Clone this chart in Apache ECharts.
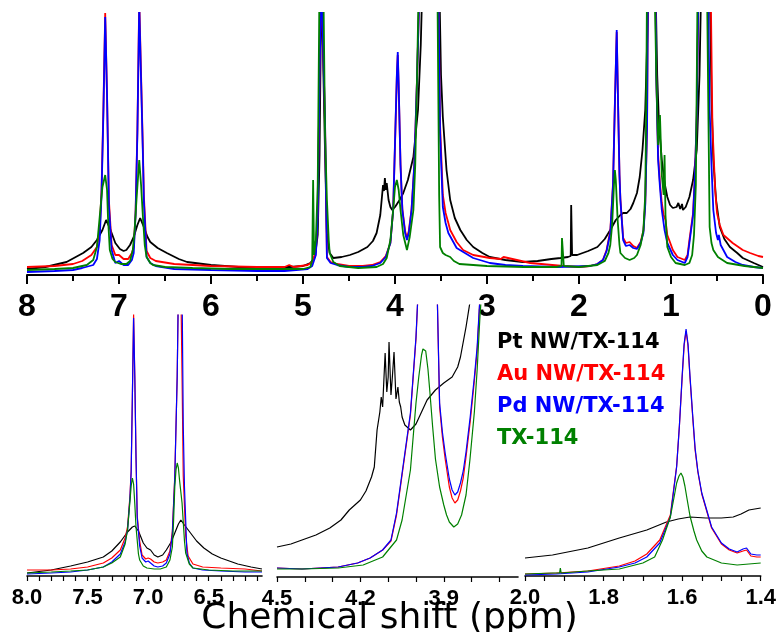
<!DOCTYPE html>
<html>
<head>
<meta charset="utf-8">
<script src="https://cdn.jsdelivr.net/npm/echarts@6/dist/echarts.min.js"></script>
<style>
html,body{margin:0;padding:0;background:#fff;}
#chart{width:779px;height:632px;}
</style>
</head>
<body>
<div id="chart"></div>
<script>
// 1H NMR spectra of TX-114 alone and with Pt, Au, Pd nanowires (intensity in arbitrary units)
const sampleNames = ['Pt NW/TX-114', 'Au NW/TX-114', 'Pd NW/TX-114', 'TX-114'];

// ---- full range, 8 to 0 ppm ----
const fullPt = [[8.0,6],[7.8,8],[7.57,13],[7.39,22],[7.3,28],[7.24,35],[7.18,45],[7.14,55],[7.1,47],[7.08,42],[7.04,32],[6.99,26],[6.95,24],[6.92,25],[6.88,30],[6.84,38],[6.8,50],[6.77,57],[6.73,48],[6.69,38],[6.66,33],[6.58,27],[6.48,22],[6.35,16],[6.26,13],[6.0,10],[5.7,8],[5.39,8],[5.14,8],[5.0,9],[4.92,12],[4.87,18],[4.84,40],[4.82,120],[4.80,300],[4.78,300],[4.76,120],[4.74,40],[4.71,22],[4.67,17],[4.58,18],[4.49,20],[4.40,23],[4.30,28],[4.24,34],[4.2,42],[4.16,60],[4.14,80],[4.13,90],[4.12,84],[4.11,97],[4.10,85],[4.09,92],[4.07,75],[4.05,68],[4.03,65],[4.0,68],[3.95,75],[3.91,82],[3.86,95],[3.80,118],[3.75,165],[3.72,230],[3.70,300],[3.52,300],[3.50,200],[3.48,158],[3.44,105],[3.40,75],[3.35,57],[3.29,45],[3.22,35],[3.15,28],[3.05,22],[2.97,18],[2.8,15],[2.61,13],[2.45,14],[2.3,16],[2.2,17],[2.12,18],[2.09,19],[2.085,70],[2.08,70],[2.075,20],[2.02,20],[1.9,24],[1.80,28],[1.72,36],[1.66,45],[1.60,55],[1.55,60],[1.52,62],[1.48,62],[1.44,66],[1.41,72],[1.37,82],[1.34,98],[1.31,125],[1.28,165],[1.26,230],[1.24,300],[1.17,300],[1.15,200],[1.13,150],[1.10,115],[1.07,92],[1.04,78],[1.01,70],[0.98,67],[0.94,68],[0.92,72],[0.90,66],[0.88,71],[0.87,65],[0.84,68],[0.80,78],[0.76,95],[0.72,125],[0.69,200],[0.67,300],[0.58,300],[0.56,180],[0.54,115],[0.51,75],[0.47,48],[0.42,36],[0.36,28],[0.28,22],[0.22,17],[0.1,12],[0,8]];
const fullAu = [[8.0,8],[7.7,9],[7.5,11],[7.4,14],[7.3,20],[7.24,28],[7.21,45],[7.19,85],[7.17,165],[7.15,262],[7.13,180],[7.11,75],[7.08,30],[7.04,20],[7.0,20],[6.98,21],[6.95,16],[6.9,16],[6.86,22],[6.84,28],[6.82,62],[6.80,145],[6.78,275],[6.76,275],[6.74,125],[6.73,80],[6.70,24],[6.66,17],[6.6,14],[6.4,11],[6.0,9],[5.5,8],[5.2,8],[5.15,10],[5.1,8],[4.95,10],[4.9,13],[4.86,24],[4.84,62],[4.82,200],[4.80,300],[4.78,300],[4.76,150],[4.74,18],[4.70,13],[4.63,11],[4.5,9],[4.35,9],[4.25,10],[4.16,13],[4.1,19],[4.05,32],[4.02,65],[4.0,130],[3.98,198],[3.97,220],[3.96,188],[3.94,110],[3.92,66],[3.89,44],[3.87,37],[3.85,44],[3.82,66],[3.79,110],[3.76,198],[3.73,300],[3.53,300],[3.51,150],[3.48,80],[3.45,62],[3.42,52],[3.40,45],[3.33,33],[3.26,25],[3.15,20],[2.97,17],[2.85,16],[2.82,18],[2.8,16],[2.53,12],[2.17,9],[2.0,8],[1.88,9],[1.80,11],[1.74,15],[1.70,25],[1.66,44],[1.63,92],[1.61,172],[1.59,243],[1.575,170],[1.56,100],[1.55,76],[1.52,37],[1.49,32],[1.47,34],[1.45,33],[1.41,29],[1.37,27],[1.33,33],[1.30,44],[1.28,72],[1.26,150],[1.25,300],[1.17,300],[1.16,200],[1.14,120],[1.12,92],[1.10,72],[1.08,60],[1.06,55],[1.04,40],[0.98,25],[0.93,18],[0.85,15],[0.82,20],[0.80,35],[0.78,34],[0.76,62],[0.74,100],[0.72,160],[0.70,300],[0.57,300],[0.55,150],[0.52,85],[0.50,62],[0.49,58],[0.47,50],[0.43,40],[0.33,32],[0.22,25],[0.14,22],[0.05,19],[0,18]];
const fullPd = [[8.0,3],[7.7,4],[7.5,5],[7.4,7],[7.28,10],[7.24,16],[7.21,35],[7.19,80],[7.17,160],[7.15,258],[7.13,180],[7.11,70],[7.08,25],[7.04,12],[7.0,14],[6.98,16],[6.95,10],[6.9,10],[6.86,15],[6.84,22],[6.82,60],[6.80,142],[6.78,270],[6.76,270],[6.74,120],[6.73,75],[6.70,18],[6.66,12],[6.6,9],[6.4,6],[6.0,5],[5.5,4],[5.2,4],[4.95,6],[4.9,9],[4.86,20],[4.84,60],[4.82,200],[4.80,300],[4.78,300],[4.76,150],[4.74,17],[4.70,12],[4.63,10],[4.5,8],[4.35,8],[4.25,9],[4.16,12],[4.1,18],[4.05,32],[4.02,65],[4.0,132],[3.98,200],[3.97,223],[3.96,190],[3.94,110],[3.92,65],[3.89,42],[3.87,35],[3.85,42],[3.82,65],[3.79,110],[3.76,198],[3.73,300],[3.53,300],[3.51,142],[3.48,68],[3.45,52],[3.42,42],[3.33,27],[3.15,17],[2.97,12],[2.8,10],[2.61,9],[2.24,8],[1.88,9],[1.80,11],[1.74,15],[1.70,24],[1.66,42],[1.63,90],[1.61,170],[1.59,245],[1.575,170],[1.56,100],[1.55,75],[1.52,35],[1.49,29],[1.47,31],[1.45,30],[1.41,27],[1.37,26],[1.33,32],[1.30,42],[1.28,70],[1.26,150],[1.25,300],[1.17,300],[1.16,200],[1.14,115],[1.12,88],[1.10,65],[1.07,45],[1.04,32],[0.98,20],[0.93,15],[0.85,12],[0.82,18],[0.80,32],[0.78,30],[0.76,60],[0.74,98],[0.72,160],[0.70,300],[0.60,300],[0.58,165],[0.56,110],[0.54,65],[0.51,42],[0.49,35],[0.48,40],[0.46,30],[0.39,18],[0.3,13],[0.22,10],[0.1,8],[0,7]];
const fullTX = [[8.0,5],[7.7,6],[7.5,7],[7.35,10],[7.28,15],[7.24,28],[7.21,58],[7.18,88],[7.15,100],[7.13,85],[7.12,58],[7.10,25],[7.07,16],[7.04,13],[6.98,11],[6.92,11],[6.88,14],[6.85,25],[6.83,45],[6.81,75],[6.78,115],[6.76,90],[6.74,58],[6.72,30],[6.70,18],[6.66,12],[6.63,10],[6.5,8],[6.2,7],[5.8,6],[5.4,6],[5.0,6],[4.92,8],[4.90,15],[4.89,95],[4.885,95],[4.88,20],[4.86,35],[4.84,90],[4.82,300],[4.78,300],[4.76,140],[4.74,75],[4.72,35],[4.71,22],[4.67,13],[4.6,9],[4.4,7],[4.2,8],[4.13,11],[4.09,17],[4.05,35],[4.02,65],[4.0,88],[3.98,95],[3.96,85],[3.94,65],[3.91,40],[3.87,25],[3.84,38],[3.80,65],[3.78,110],[3.76,200],[3.74,300],[3.54,300],[3.52,80],[3.51,28],[3.48,22],[3.45,20],[3.40,18],[3.36,14],[3.3,11],[3.0,9],[2.6,8],[2.25,8],[2.19,9],[2.185,37],[2.17,37],[2.165,9],[2.0,8],[1.9,9],[1.8,10],[1.72,14],[1.68,22],[1.66,30],[1.64,50],[1.62,90],[1.61,105],[1.60,95],[1.58,55],[1.56,30],[1.55,22],[1.50,17],[1.45,15],[1.40,17],[1.37,20],[1.33,30],[1.30,45],[1.28,80],[1.27,160],[1.26,300],[1.18,300],[1.16,200],[1.14,130],[1.12,160],[1.10,100],[1.08,80],[1.07,120],[1.06,60],[1.04,28],[1.0,18],[0.95,12],[0.85,10],[0.80,12],[0.77,20],[0.75,40],[0.73,90],[0.71,300],[0.61,300],[0.59,132],[0.58,48],[0.56,32],[0.54,25],[0.49,18],[0.39,12],[0.2,9],[0,7]];

// ---- aromatic region, 8.0 to 6.06 ppm ----
const aroPt = [[8.0,3],[7.8,6],[7.64,10],[7.5,14],[7.37,19],[7.3,25],[7.23,34],[7.17,44],[7.13,49],[7.11,50],[7.08,45],[7.04,33],[7.01,28],[6.98,26],[6.95,21],[6.92,19],[6.88,21],[6.85,26],[6.81,34],[6.78,43],[6.75,52],[6.73,56],[6.70,51],[6.65,43],[6.60,35],[6.54,28],[6.47,22],[6.40,18],[6.33,15],[6.26,12],[6.15,9],[6.06,7]];
const aroAu = [[8.0,6],[7.8,6],[7.64,7],[7.5,9],[7.37,13],[7.3,18],[7.23,26],[7.19,38],[7.17,49],[7.15,80],[7.14,106],[7.13,180],[7.12,262],[7.11,200],[7.10,120],[7.09,60],[7.07,35],[7.05,21],[7.02,17],[7.0,18],[6.98,17],[6.95,14],[6.92,13],[6.88,14],[6.85,16],[6.82,25],[6.80,45],[6.78,100],[6.76,200],[6.75,290],[6.73,290],[6.72,200],[6.71,100],[6.69,40],[6.67,20],[6.63,12],[6.55,9],[6.4,8],[6.2,7],[6.06,5]];
const aroPd = [[8.0,2],[7.8,3],[7.64,4],[7.5,6],[7.37,9],[7.3,14],[7.23,22],[7.19,34],[7.17,46],[7.15,78],[7.14,104],[7.13,180],[7.12,258],[7.11,198],[7.10,118],[7.09,58],[7.07,30],[7.05,18],[7.02,14],[7.0,15],[6.98,13],[6.95,10],[6.92,9],[6.88,10],[6.85,13],[6.82,22],[6.80,42],[6.78,98],[6.76,200],[6.75,290],[6.72,290],[6.71,150],[6.70,89],[6.68,23],[6.66,13],[6.63,8],[6.55,6],[6.4,5],[6.2,4],[6.06,4]];
const aroTX = [[8.0,3],[7.8,4],[7.64,5],[7.5,6],[7.37,9],[7.3,13],[7.23,19],[7.19,32],[7.17,46],[7.15,75],[7.14,90],[7.13,98],[7.12,92],[7.11,72],[7.10,49],[7.08,22],[7.07,16],[7.04,10],[7.01,8],[6.95,7],[6.90,7],[6.85,9],[6.82,16],[6.80,29],[6.79,55],[6.78,89],[6.77,106],[6.76,113],[6.75,108],[6.74,95],[6.72,73],[6.70,35],[6.69,23],[6.66,12],[6.63,8],[6.5,6],[6.3,5],[6.06,5]];

// ---- oxyethylene region, 4.5 to 3.63 ppm ----
const eoPt = [[4.50,30],[4.45,33],[4.41,37],[4.36,42],[4.31,49],[4.27,57],[4.24,67],[4.22,72],[4.20,77],[4.18,86],[4.16,100],[4.15,110],[4.14,147],[4.13,165],[4.125,180],[4.12,170],[4.115,200],[4.111,224],[4.105,185],[4.10,200],[4.097,235],[4.09,182],[4.085,200],[4.079,225],[4.072,178],[4.065,190],[4.06,175],[4.055,170],[4.05,160],[4.04,152],[4.02,147],[4.00,153],[3.98,165],[3.96,177],[3.93,187],[3.90,194],[3.87,200],[3.85,210],[3.84,220],[3.82,250],[3.80,285],[3.78,330]];
const eoAu = [[4.50,9],[4.41,8],[4.28,10],[4.21,14],[4.165,19],[4.12,27],[4.09,36],[4.07,62],[4.05,102],[4.02,162],[4.00,238],[3.99,300],[3.975,450],[3.958,540],[3.94,450],[3.925,300],[3.915,170],[3.905,140],[3.895,118],[3.88,90],[3.87,79],[3.86,74],[3.85,77],[3.84,86],[3.83,99],[3.82,120],[3.805,155],[3.79,196],[3.78,226],[3.77,278],[3.76,300],[3.633,300]];
const eoPd = [[4.50,9],[4.41,8],[4.28,10],[4.21,14],[4.165,19],[4.12,27],[4.09,37],[4.07,64],[4.05,104],[4.02,164],[4.00,240],[3.99,300],[3.975,450],[3.958,540],[3.94,450],[3.925,300],[3.915,174],[3.905,145],[3.895,124],[3.88,98],[3.87,87],[3.86,82],[3.85,85],[3.84,94],[3.83,106],[3.82,125],[3.805,160],[3.79,200],[3.78,230],[3.77,280],[3.76,300],[3.633,300]];
const eoTX = [[4.50,8],[4.41,8],[4.28,9],[4.19,12],[4.12,20],[4.07,37],[4.05,57],[4.02,107],[4.00,174],[3.99,200],[3.98,222],[3.975,228],[3.97,230],[3.965,226],[3.957,208],[3.95,185],[3.94,150],[3.93,118],[3.915,90],[3.90,72],[3.89,62],[3.88,55],[3.864,50],[3.85,53],[3.836,62],[3.82,82],[3.806,117],[3.79,165],[3.78,207],[3.77,260],[3.76,300],[3.633,300]];

// ---- alkyl region, 2.0 to 1.4 ppm ----
const alkPt = [[2.0,18],[1.93,21],[1.84,28],[1.76,38],[1.69,46],[1.64,54],[1.61,57],[1.58,59],[1.54,58],[1.50,58],[1.47,59],[1.45,62],[1.43,66],[1.40,68]];
const alkAu = [[2.0,2],[1.92,3],[1.84,5],[1.76,10],[1.72,15],[1.69,22],[1.657,36],[1.63,61],[1.614,110],[1.607,150],[1.60,198],[1.595,230],[1.59,245],[1.585,230],[1.58,198],[1.573,158],[1.567,126],[1.56,104],[1.55,82],[1.525,48],[1.50,32],[1.48,26],[1.46,23],[1.445,25],[1.436,26],[1.425,20],[1.41,19],[1.40,19]];
const alkPd = [[2.0,1],[1.92,2],[1.84,4],[1.76,9],[1.72,13],[1.69,19],[1.657,33],[1.63,59],[1.614,109],[1.607,150],[1.60,200],[1.595,232],[1.59,247],[1.585,232],[1.58,200],[1.573,160],[1.567,128],[1.56,105],[1.55,83],[1.525,49],[1.50,33],[1.48,27],[1.46,24],[1.445,27],[1.436,28],[1.425,22],[1.41,21],[1.40,21]];
const alkTX = [[2.0,2],[1.93,3],[1.912,3],[1.91,8],[1.908,3],[1.84,5],[1.76,7],[1.70,13],[1.67,19],[1.65,36],[1.63,59],[1.62,80],[1.614,93],[1.608,100],[1.603,103],[1.598,99],[1.593,90],[1.587,76],[1.58,60],[1.57,45],[1.563,36],[1.55,25],[1.537,19],[1.50,13],[1.46,11],[1.43,12],[1.40,13]];

// tick positions and labels (ppm)
const fullLabels = [8, 7, 6, 5, 4, 3, 2, 1, 0];
const aroTicks = [8.0,7.9,7.8,7.7,7.6,7.5,7.4,7.3,7.2,7.1,7.0,6.9,6.8,6.7,6.6,6.5,6.4,6.3,6.2,6.1];
const aroLabels = [8.0, 7.5, 7.0, 6.5];
const eoTicks = [4.5,4.4,4.3,4.2,4.1,4.0,3.9,3.8,3.7];
const eoLabels = [4.5, 4.2, 3.9];
const alkTicks = [2.0,1.95,1.9,1.85,1.8,1.75,1.7,1.65,1.6,1.55,1.5,1.45,1.4];
const alkLabels = [2.0, 1.8, 1.6, 1.4];

const panels = [
  [fullPt, fullAu, fullPd, fullTX],
  [aroPt, aroAu, aroPd, aroTX],
  [eoPt, eoAu, eoPd, eoTX],
  [alkPt, alkAu, alkPd, alkTX]
];

const colors = ['#000000', '#ff0000', '#0000ff', '#008000'];
const FONT = '"Liberation Sans", Arial, sans-serif';
const WIDE = '"DejaVu Sans", sans-serif';

const chart = echarts.init(document.getElementById('chart'), null, {renderer: 'canvas'});

const grids = [
  {left: 27, top: 13, width: 736, height: 262},
  {left: 27, top: 315, width: 235, height: 261},
  {left: 277, top: 305, width: 241, height: 272},
  {left: 525, top: 315, width: 236, height: 261}
];
const yMax = [262, 261, 272, 261];

function subAxis(idx, min, max, ticks, labels) {
  return {
    type: 'value', gridIndex: idx, min: min, max: max, inverse: true,
    axisLine: {lineStyle: {color: '#000', width: 1.6}},
    axisTick: {show: true, length: 5, customValues: ticks, lineStyle: {color: '#000', width: 1.2}},
    axisLabel: {customValues: labels, formatter: v => v.toFixed(1), fontSize: 22, fontWeight: 'bold',
      fontFamily: FONT, color: '#000', margin: 11},
    splitLine: {show: false}
  };
}

const xAxes = [
  {
    type: 'value', gridIndex: 0, min: 0, max: 8, interval: 1, inverse: true,
    axisLine: {lineStyle: {color: '#000', width: 2}},
    axisTick: {length: 9, lineStyle: {color: '#000', width: 2}},
    minorTick: {show: true, splitNumber: 2, length: 6, lineStyle: {color: '#000', width: 2}},
    axisLabel: {customValues: fullLabels, fontSize: 32, fontWeight: 'bold', fontFamily: FONT, color: '#000', margin: 16},
    splitLine: {show: false}
  },
  subAxis(1, 6.06, 8.0, aroTicks, aroLabels),
  subAxis(2, 3.633, 4.5, eoTicks, eoLabels),
  subAxis(3, 1.4, 2.0, alkTicks, alkLabels)
];

const yAxes = yMax.map((m, i) => ({type: 'value', gridIndex: i, min: 0, max: m, show: false}));

const series = [];
panels.forEach((sets, p) => {
  sets.forEach((data, s) => {
    series.push({
      name: sampleNames[s], type: 'line', xAxisIndex: p, yAxisIndex: p,
      data: data, showSymbol: false, symbol: 'none', smooth: false, clip: true,
      lineStyle: {color: colors[s], width: p === 0 ? 1.8 : 1.2},
      itemStyle: {color: colors[s]}, z: 2 + s
    });
  });
});

chart.setOption({
  animation: false,
  backgroundColor: '#fff',
  grid: grids,
  xAxis: xAxes,
  yAxis: yAxes,
  title: {
    text: 'Chemical shift (ppm)', left: 'center', top: 596,
    textStyle: {fontSize: 36, fontWeight: 'normal', fontFamily: WIDE, color: '#000'}
  },
  legend: {
    orient: 'vertical', left: 487, top: 327, itemWidth: 0, itemHeight: 0, itemGap: 11,
    icon: 'none', selectedMode: false,
    textStyle: {fontSize: 21, fontWeight: 'bold', fontFamily: WIDE},
    data: sampleNames.map((n, i) => ({name: n, textStyle: {color: colors[i]}}))
  },
  series: series
});
</script>
</body>
</html>
